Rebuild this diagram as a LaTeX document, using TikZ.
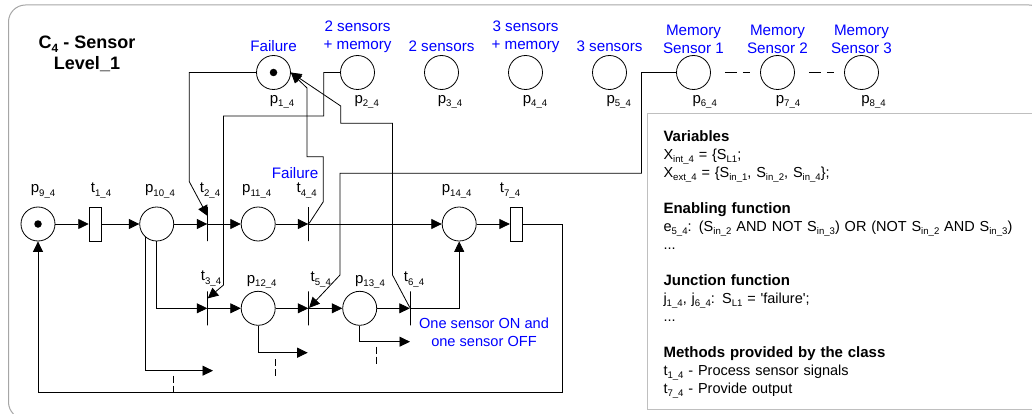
\documentclass[tikz,border=0pt]{standalone}
\usepackage{fontspec}
\setmainfont{Liberation Sans}
\usepackage{tikz}
\usetikzlibrary{positioning, arrows.meta}

\newcommand{\sbs}[1]{\raisebox{-3.5pt}{\fontsize{9.6}{10}\selectfont #1}}
\newcommand{\hdr}[1]{{\bfseries\fontsize{15}{18}\selectfont #1}}

\tikzset{
  place/.style={circle, draw, fill=white, minimum size=34pt, inner sep=0pt},
  bar/.style={rectangle, draw, minimum width=0pt, minimum height=34pt, inner sep=0pt},
  timed/.style={rectangle, draw, fill=white, minimum width=12.5pt, minimum height=34pt, inner sep=0pt},
  tokendot/.style={circle, fill=black, minimum size=7.5pt, inner sep=0pt},
  pname/.style={anchor=base, inner sep=0pt, font=\fontsize{15}{18}\selectfont},
  bluetxt/.style={align=center, inner sep=0pt, text=blue, font=\fontsize{15.2}{18}\selectfont},
  arc/.style={line width=0.8pt, -{Triangle[length=10.5pt,width=10pt]}},
  gaps/.style={line width=0.8pt, dash pattern=on 7pt off 3pt on 8pt off 20pt}
}

\begin{document}
\begin{tikzpicture}[x=1pt, y=-1pt, on grid, line width=0.8pt]
   \useasboundingbox (0,0) rectangle (1032,414);
   \draw[draw=black!35, line width=1pt, rounded corners=17pt] (8.5,5) rectangle (1046,419);

   % Top row of places
   \node[place] (p1) at (273.5,72.5) {};
   \node[place] (p2) [right=84pt of p1] {};
   \node[place] (p3) [right=84pt of p2] {};
   \node[place] (p4) [right=84pt of p3] {};
   \node[place] (p5) [right=84pt of p4] {};
   \node[place] (p6) [right=84pt of p5] {};
   \node[place] (p7) [right=84pt of p6] {};
   \node[place] (p8) [right=84pt of p7] {};
   \node[tokendot] (tok1) at (p1) {};

   % Middle row
   \node[place] (p9) at (38,224) {};
   \node[timed] (t1) [right=57.4pt of p9] {};
   \node[place] (p10) [right=61.3pt of t1] {};
   \node[bar] (t2) [right=51pt of p10] {};
   \node[place] (p11) [right=50.5pt of t2] {};
   \node[bar] (t4) [right=50.5pt of p11] {};
   \node[place] (p14) [right=150.5pt of t4] {};
   \node[timed] (t7) [right=57.3pt of p14] {};
   \node[tokendot] (tok9) at (p9) {};

   % Lower row
   \node[bar] (t3) [below=84.3pt of t2] {};
   \node[place] (p12) [right=50.5pt of t3] {};
   \node[bar] (t5) [right=50.5pt of p12] {};
   \node[place] (p13) [right=51pt of t5] {};
   \node[bar] (t6) [right=50.5pt of p13] {};

   % Free ends
   \coordinate (end10) at (213,370.7);
   \coordinate (end12) at (307.7,352.7);
   \coordinate (end13) at (410,341.7);

   % Transitions
   \draw[arc] (p9) -- (t1.west);
   \draw[arc] (t1.east) -- (p10);
   \draw[arc] (p10) -- (t2);
   \draw[arc] (t2) -- (p11);
   \draw[arc] (p11) -- (t4);
   \draw[arc] (t4) -- (p14);
   \draw[arc] (p14) -- (t7.west);
   \draw[arc] (t3) -- (p12);
   \draw[arc] (p12) -- (t5);
   \draw[arc] (t5) -- (p13);
   \draw[arc] (p13) -- (t6);
   \draw[arc] (t7.east) -- (562,224) -- (562,392.3) -- (38,392.3) -- (p9.south);
   \draw[arc] (p10.south) |- (t3);
   \draw[arc] (p10.-130) |- (end10);
   \draw[arc] (p12.south) |- (end12);
   \draw[arc] (p13.south) |- (end13);
   \draw[arc] (t6) -| (p14.south);

   % Inputs from the top row
   \draw[arc] (p1.west) -- (189.3,72.5) -- (189.3,181.7) -- ([yshift=-9.5pt]t2.north);
   \draw[arc] (p2.west) -- (323.7,72.5) -- (323.7,116) -- (223.5,116) -- (223.5,285) -- ([yshift=-7.5pt]t3.north);
   \draw[arc] (p6.west) -- (641.5,72.5) -- (641.5,173.3) -- (340,173.3) -- (340,275) -- (t5);
   \draw[arc] (t4) -- (323.3,201.7) -- (323.3,156.7) -- (307,156.7) -- (307,88) -- (p1.east);
   \draw[arc] (t6) -- (392.5,275) -- (392.5,123.3) -- (340.7,123.3) -- (340.7,106) -- (p1.east);

   % Cut lines
   \draw[dash pattern=on 12pt off 6pt, shorten <=14pt, shorten >=10pt] (p6.east) -- (p7.west);
   \draw[dash pattern=on 12pt off 6pt, shorten <=14pt, shorten >=10pt] (p7.east) -- (p8.west);
   \coordinate (cut10) at (173.5,375.7);
   \coordinate (cut12) at (275,359);
   \coordinate (cut13) at (376,346.7);
   \draw[gaps] (cut10) -- ++(0,16.6);
   \draw[gaps] (cut12) -- ++(0,17);
   \draw[gaps] (cut13) -- ++(0,17);

   % Names of places and transitions
   \node[pname] (n1) at (282,103.5) {p\sbs{1\_4}};
   \node[pname] (n2) at (366.7,103.5) {p\sbs{2\_4}};
   \node[pname] (n3) at (450,103.5) {p\sbs{3\_4}};
   \node[pname] (n4) at (535,103.5) {p\sbs{4\_4}};
   \node[pname] (n5) at (618.7,103.5) {p\sbs{5\_4}};
   \node[pname] (n6) at (704.7,103.5) {p\sbs{6\_4}};
   \node[pname] (n7) at (788,103.5) {p\sbs{7\_4}};
   \node[pname] (n8) at (873.5,103.5) {p\sbs{8\_4}};
   \node[pname] (n9) at (43,193) {p\sbs{9\_4}};
   \node[pname] (m1) at (101,193) {t\sbs{1\_4}};
   \node[pname] (n10) at (160,193) {p\sbs{10\_4}};
   \node[pname] (m2) at (210,193) {t\sbs{2\_4}};
   \node[pname] (n11) at (256.7,193) {p\sbs{11\_4}};
   \node[pname] (m4) at (306.7,193) {t\sbs{4\_4}};
   \node[pname] (n14) at (456.7,193) {p\sbs{14\_4}};
   \node[pname] (m7) at (510,193) {t\sbs{7\_4}};
   \node[pname] (m3) at (211,280.5) {t\sbs{3\_4}};
   \node[pname] (n12) at (261.7,283) {p\sbs{12\_4}};
   \node[pname] (m5) at (320.8,281.5) {t\sbs{5\_4}};
   \node[pname] (n13) at (370,283) {p\sbs{13\_4}};
   \node[pname] (m6) at (414,281.5) {t\sbs{6\_4}};

   % Meaning of the places
   \node[bluetxt] (failtop) at (273.5,46) {Failure};
   \node[bluetxt] (s2m) at (357.5,37) {2 sensors\\+ memory};
   \node[bluetxt] (s2) at (441.5,46) {2 sensors};
   \node[bluetxt] (s3m) at (525.5,37) {3 sensors\\+ memory};
   \node[bluetxt] (s3) at (609.5,46) {3 sensors};
   \node[bluetxt] (mem1) at (693.5,39.5) {Memory\\Sensor 1};
   \node[bluetxt] (mem2) at (777.5,39.5) {Memory\\Sensor 2};
   \node[bluetxt] (mem3) at (861.5,39.5) {Memory\\Sensor 3};
   \node[bluetxt] (failmid) at (295,173) {Failure};
   \node[bluetxt, font=\fontsize{14.6}{18}\selectfont] (oneon) at (484,332) {One sensor ON and\\one sensor OFF};

   % Title
   \node[align=center, inner sep=0pt, font=\bfseries\fontsize{18}{21}\selectfont] (title) at (87,54) {C\raisebox{-4pt}{\fontsize{12}{12}\selectfont 4} - Sensor\\Level\_1};

   % Class description
   \node[draw=black!25, line width=1pt, fill=white, anchor=north west, minimum width=420pt, minimum height=296pt,
         text width=388pt, inner sep=0pt, align=left, font=\fontsize{14.5}{18}\selectfont] (panel) at (647,113) {%
     \rule{0pt}{17pt}\hdr{Variables}\\
     X\sbs{int\_4} = \{S\sbs{L1};\\
     X\sbs{ext\_4} = \{S\sbs{in\_1}, S\sbs{in\_2}, S\sbs{in\_4}\};\\[18pt]
     \hdr{Enabling function}\\
     e\sbs{5\_4}: (S\sbs{in\_2} AND NOT S\sbs{in\_3}) OR (NOT S\sbs{in\_2} AND S\sbs{in\_3})\\
     ...\\[18pt]
     \hdr{Junction function}\\
     j\sbs{1\_4}, j\sbs{6\_4}: S\sbs{L1} = \textquotesingle failure\textquotesingle;\\
     ...\\[18pt]
     \hdr{Methods provided by the class}\\
     t\sbs{1\_4} - Process sensor signals\\
     t\sbs{7\_4} - Provide output};
\end{tikzpicture}
\end{document}
